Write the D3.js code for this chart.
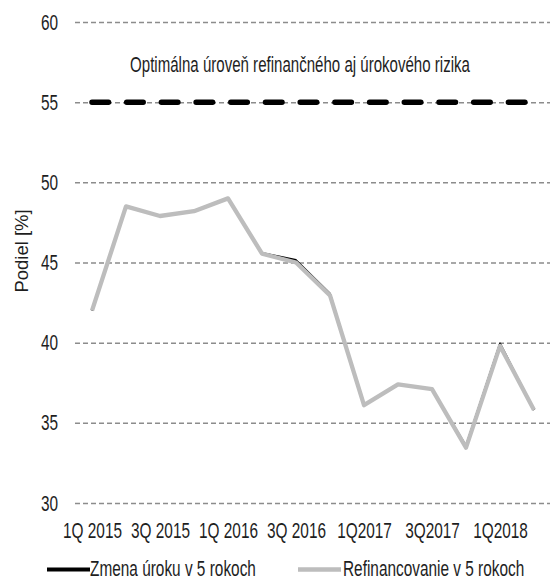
<!DOCTYPE html>
<html><head><meta charset="utf-8">
<script src="https://cdn.jsdelivr.net/npm/d3@7"></script>
<style>
body{margin:0;background:#fff}
svg{display:block}
text{font-family:"Liberation Sans",Arial,sans-serif;fill:#1e1e1e}
</style>
</head><body>
<svg id="chart" width="550" height="581"></svg>
<script>
const categories = ["1Q 2015","2Q 2015","3Q 2015","4Q 2015","1Q 2016","2Q 2016","3Q 2016","4Q 2016","1Q2017","2Q2017","3Q2017","4Q2017","1Q2018","2Q2018"];
const tickLabels = ["1Q 2015","3Q 2015","1Q 2016","3Q 2016","1Q2017","3Q2017","1Q2018"];
const zmenaUroku = [42.0,48.5,47.9,48.2,49.0,45.6,45.15,43.05,36.1,37.4,37.1,33.55,39.95,35.8];
const refinancovanie = [42.0,48.5,47.9,48.2,49.0,45.55,45.0,42.95,36.1,37.4,37.1,33.45,39.8,35.8];
const optimalLevel = 55;
const yTicks = [30,35,40,45,50,55,60];
const seriesNames = ["Zmena úroku v 5 rokoch","Refinancovanie v 5 rokoch"];
const titleText = "Optimálna úroveň refinančného aj úrokového rizika";
const yTitle = "Podiel [%]";

const SX = 0.70;
const FS = 22;
const svg = d3.select("#chart");
const plotLeft = 75, plotRight = 551, plotTop = 22, plotBottom = 503;

const x = d3.scalePoint().domain(categories).range([plotLeft, plotRight]).padding(0.5);
const y = d3.scaleLinear().domain([30, 60]).range([plotBottom, plotTop]);

function squeeze(sel){
  sel.each(function(){
    const t = d3.select(this);
    const tx = +t.attr("x") || 0, ty = +t.attr("y") || 0;
    t.attr("transform", `translate(${tx},${ty}) scale(${SX},1)`).attr("x", 0).attr("y", 0);
  });
}

const gy = svg.append("g").attr("transform", `translate(${plotLeft},0)`)
  .call(d3.axisLeft(y).tickValues(yTicks).tickSize(-(550 - plotLeft)).tickPadding(17).tickFormat(d3.format("d")));
gy.select(".domain").remove();
gy.selectAll(".tick line").attr("stroke", "#8c8c8c").attr("stroke-width", 1.5).attr("stroke-dasharray", "5,3");
gy.selectAll(".tick text").attr("font-size", FS).attr("font-family", "Liberation Sans, Arial, sans-serif").attr("fill", "#1e1e1e").call(squeeze);

const gx = svg.append("g").attr("transform", `translate(0,${plotBottom})`)
  .call(d3.axisBottom(x).tickValues(tickLabels).tickSize(0).tickPadding(19.5));
gx.select(".domain").remove();
gx.selectAll(".tick text").attr("font-size", FS).attr("font-family", "Liberation Sans, Arial, sans-serif").attr("fill", "#1e1e1e").call(squeeze);

svg.append("line")
  .attr("x1", x(categories[0])).attr("x2", x(categories[categories.length - 1]))
  .attr("y1", y(optimalLevel)).attr("y2", y(optimalLevel))
  .attr("stroke", "#000").attr("stroke-width", 5.5)
  .attr("stroke-linecap", "round").attr("stroke-dasharray", "16.5,18.2");

const line = d3.line().x((d, i) => x(categories[i])).y(d => y(d));
svg.append("path").datum(zmenaUroku).attr("d", line)
  .attr("fill", "none").attr("stroke", "#000").attr("stroke-width", 2).attr("stroke-linejoin", "round");
svg.append("path").datum(refinancovanie).attr("d", line)
  .attr("fill", "none").attr("stroke", "#bdbdbd").attr("stroke-width", 4.3).attr("stroke-linejoin", "round");

svg.append("text").attr("transform", `translate(300,72) scale(0.685,1)`)
  .attr("text-anchor", "middle").attr("font-size", FS).text(titleText);

svg.append("text").attr("transform", `translate(22,251) rotate(-90) scale(0.84,0.8)`)
  .attr("text-anchor", "middle").attr("dy", "0.35em").attr("font-size", FS).text(yTitle);

const legend = [
  {name: seriesNames[0], color: "#000", w: 4, x1: 47, x2: 90, tx: 90},
  {name: seriesNames[1], color: "#bdbdbd", w: 4.5, x1: 298, x2: 341, tx: 343}
];
legend.forEach(l => {
  svg.append("line").attr("x1", l.x1).attr("x2", l.x2).attr("y1", 569.5).attr("y2", 569.5)
    .attr("stroke", l.color).attr("stroke-width", l.w);
  svg.append("text").attr("transform", `translate(${l.tx},575.5) scale(${SX},1)`)
    .attr("font-size", FS).text(l.name);
});
</script>
</body></html>
